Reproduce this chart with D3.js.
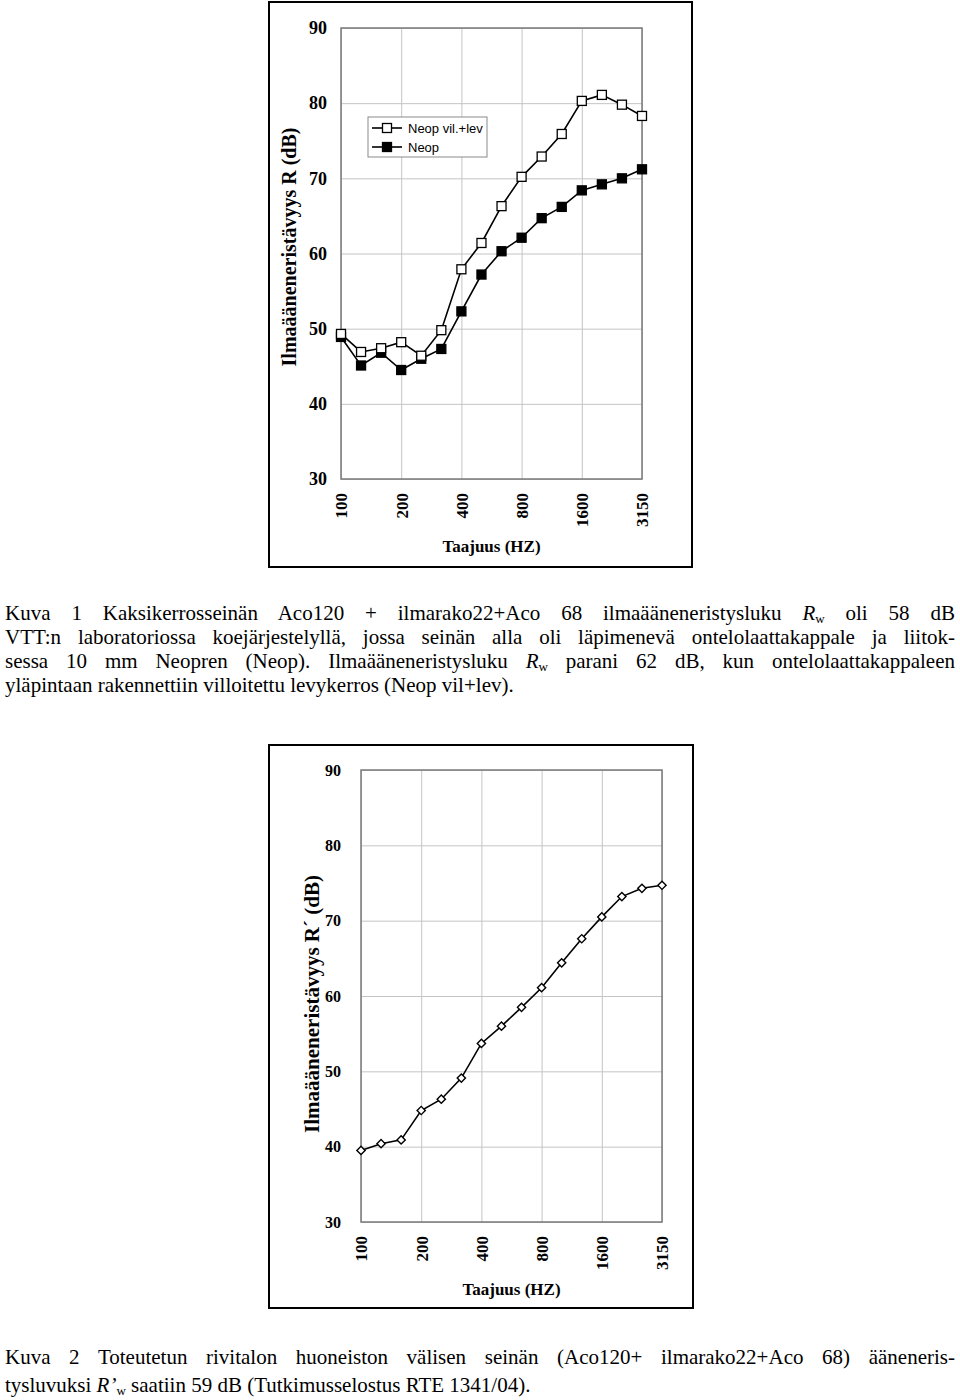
<!DOCTYPE html>
<html>
<head>
<meta charset="utf-8">
<script src="https://cdn.jsdelivr.net/npm/d3@7"></script>
<style>
  body { margin: 0; background: #fff; }
  svg { display: block; }
</style>
</head>
<body>
<svg id="page" width="960" height="1400"></svg>
<script>
// third-octave band centre frequencies
const freqs = ['100', '125', '160', '200', '250', '315', '400', '500', '630', '800',
  '1000', '1250', '1600', '2000', '2500', '3150'];
const freqTicks = ['100', '200', '400', '800', '1600', '3150'];
const dbTicks = [30, 40, 50, 60, 70, 80, 90];

// Kuva 1: laboratory values
const seriesNames = ['Neop vil.+lev', 'Neop'];
const neopVilLev = [49.3, 46.9, 47.4, 48.2, 46.4, 49.8, 57.9, 61.4, 66.3, 70.2, 72.9, 75.9, 80.3, 81.1, 79.8, 78.3];
const neop = [48.9, 45.1, 46.8, 44.5, 46.0, 47.3, 52.3, 57.2, 60.3, 62.1, 64.7, 66.2, 68.4, 69.2, 70.0, 71.2];
// Kuva 2: field values
const fieldR = [39.5, 40.4, 40.9, 44.8, 46.3, 49.1, 53.7, 56.0, 58.5, 61.1, 64.4, 67.6, 70.5, 73.2, 74.3, 74.7];

const serif = '"Liberation Serif", "Times New Roman", serif';
const sans = '"Liberation Sans", Arial, sans-serif';

const svg = d3.select('#page');

function drawChart(o) {
  const g = svg.append('g');
  // outer frame
  g.append('rect')
    .attr('x', o.frame[0]).attr('y', o.frame[1])
    .attr('width', o.frame[2] - o.frame[0]).attr('height', o.frame[3] - o.frame[1])
    .attr('fill', '#fff').attr('stroke', '#000').attr('stroke-width', 2);

  const x = d3.scalePoint().domain(freqs).range([o.left, o.right]);
  const y = d3.scaleLinear().domain([30, 90]).range([o.bottom, o.top]);

  // grid
  g.append('g')
    .attr('transform', `translate(0,${o.top})`)
    .call(d3.axisBottom(x).tickValues(freqTicks).tickSize(o.bottom - o.top).tickFormat(''))
    .call(a => a.select('.domain').remove())
    .selectAll('line').attr('stroke', '#c4c4c4').attr('stroke-width', 1);
  g.append('g')
    .attr('transform', `translate(${o.left},0)`)
    .call(d3.axisRight(y).tickValues(dbTicks).tickSize(o.right - o.left).tickFormat(''))
    .call(a => a.select('.domain').remove())
    .selectAll('line').attr('stroke', '#c4c4c4').attr('stroke-width', 1);

  g.append('rect')
    .attr('x', o.left).attr('y', o.top)
    .attr('width', o.right - o.left).attr('height', o.bottom - o.top)
    .attr('fill', 'none').attr('stroke', '#7a7a7a').attr('stroke-width', 1.5);

  // y tick labels
  const ya = g.append('g')
    .attr('transform', `translate(${o.left},0)`)
    .call(d3.axisLeft(y).tickValues(dbTicks).tickSize(0).tickPadding(o.yPad));
  ya.select('.domain').remove();
  ya.selectAll('text')
    .attr('font-family', serif).attr('font-weight', 'bold')
    .attr('font-size', o.yFont).attr('fill', '#000');

  // x tick labels, rotated
  const xa = g.append('g')
    .attr('transform', `translate(0,${o.bottom})`)
    .call(d3.axisBottom(x).tickValues(freqTicks).tickSize(0));
  xa.select('.domain').remove();
  xa.selectAll('text')
    .attr('transform', 'rotate(-90)')
    .attr('text-anchor', 'end')
    .attr('x', -14).attr('y', 0).attr('dy', '0.35em')
    .attr('font-family', serif).attr('font-weight', 'bold')
    .attr('font-size', o.xFont).attr('fill', '#000');

  // axis titles
  g.append('text')
    .attr('transform', `translate(${o.yTitleX},${o.yTitleY}) rotate(-90)`)
    .attr('text-anchor', 'middle').attr('dy', '0.35em')
    .attr('font-family', serif).attr('font-weight', 'bold')
    .attr('font-size', o.yTitleFont)
    .text(o.yTitle);
  g.append('text')
    .attr('x', (o.left + o.right) / 2).attr('y', o.bottom + 73)
    .attr('text-anchor', 'middle')
    .attr('font-family', serif).attr('font-weight', 'bold')
    .attr('font-size', 17)
    .text('Taajuus (HZ)');

  return {g, x, y};
}

function drawLine(c, values) {
  const line = d3.line().x((d, i) => c.x(freqs[i])).y(d => c.y(d));
  c.g.append('path')
    .datum(values)
    .attr('d', line)
    .attr('fill', 'none').attr('stroke', '#000').attr('stroke-width', 1.6);
}

function drawSquares(c, values, fill) {
  const s = 9;
  c.g.append('g').selectAll('rect')
    .data(values)
    .join('rect')
      .attr('x', (d, i) => c.x(freqs[i]) - s / 2)
      .attr('y', d => c.y(d) - s / 2)
      .attr('width', s).attr('height', s)
      .attr('fill', fill).attr('stroke', '#000').attr('stroke-width', 1.3);
}

// ---- Kuva 1 ----
const c1 = drawChart({
  frame: [269, 2, 692, 567],
  left: 341, right: 642, top: 28, bottom: 479,
  yPad: 14, yFont: 18, xFont: 17,
  yTitle: 'Ilmaääneneristävyys R (dB)', yTitleX: 289, yTitleY: 247, yTitleFont: 20
});
drawLine(c1, neop);
drawLine(c1, neopVilLev);
drawSquares(c1, neop, '#000');
drawSquares(c1, neopVilLev, '#fff');

// legend
const leg = c1.g.append('g');
leg.append('rect')
  .attr('x', 368).attr('y', 117).attr('width', 119).attr('height', 40)
  .attr('fill', '#fff').attr('stroke', '#8a8a8a').attr('stroke-width', 1);
seriesNames.forEach((name, i) => {
  const ly = 128 + i * 19;
  leg.append('line')
    .attr('x1', 372).attr('x2', 402).attr('y1', ly).attr('y2', ly)
    .attr('stroke', '#000').attr('stroke-width', 1.6);
  leg.append('rect')
    .attr('x', 382.5).attr('y', ly - 4.5).attr('width', 9).attr('height', 9)
    .attr('fill', i === 0 ? '#fff' : '#000').attr('stroke', '#000').attr('stroke-width', 1.3);
  leg.append('text')
    .attr('x', 408).attr('y', ly).attr('dy', '0.35em')
    .attr('font-family', sans).attr('font-size', 13)
    .text(name);
});

// ---- Kuva 2 ----
const c2 = drawChart({
  frame: [269, 745, 693, 1308],
  left: 361, right: 662, top: 770, bottom: 1222,
  yPad: 20, yFont: 16, xFont: 17,
  yTitle: 'Ilmaääneneristävyys R´ (dB)', yTitleX: 312, yTitleY: 1004, yTitleFont: 21
});
drawLine(c2, fieldR);
c2.g.append('g').selectAll('path')
  .data(fieldR)
  .join('path')
    .attr('d', d3.symbol().type(d3.symbolSquare).size(34))
    .attr('transform', (d, i) => `translate(${c2.x(freqs[i])},${c2.y(d)}) rotate(45)`)
    .attr('fill', '#fff').attr('stroke', '#000').attr('stroke-width', 1.4);

// ---- captions (justified lines) ----
const cap1 = [
  [['Kuva 1 Kaksikerrosseinän Aco120 + ilmarako22+Aco 68 ilmaääneneristysluku '], ['R', 'i'], ['w', 's'], [' oli 58 dB']],
  [['VTT:n laboratoriossa koejärjestelyllä, jossa seinän alla oli läpimenevä ontelolaattakappale ja liitok-']],
  [['sessa 10 mm Neopren (Neop). Ilmaääneneristysluku '], ['R', 'i'], ['w', 's'], [' parani 62 dB, kun ontelolaattakappaleen']],
  [['yläpintaan rakennettiin villoitettu levykerros (Neop vil+lev).']]
];
const cap2 = [
  [['Kuva 2 Toteutetun rivitalon huoneiston välisen seinän (Aco120+ ilmarako22+Aco 68) ääneneris-']],
  [['tysluvuksi '], ['R’', 'i'], ['w', 's'], [' saatiin 59 dB (Tutkimusselostus RTE 1341/04).']]
];

function caption(lines, baselines) {
  lines.forEach((parts, li) => {
    const t = svg.append('text')
      .attr('x', 5).attr('y', baselines[li])
      .attr('font-family', serif).attr('font-size', 21).attr('fill', '#000');
    parts.forEach(([s, kind]) => {
      const ts = t.append('tspan').text(s);
      if (kind === 'i') ts.attr('font-style', 'italic');
      if (kind === 's') ts.attr('font-size', 13).attr('dy', 3);
    });
    // undo subscript shift on following span
    t.selectAll('tspan').each(function (d, i, nodes) {
      if (i > 0 && nodes[i - 1].getAttribute('dy') === '3') d3.select(this).attr('dy', -3);
    });
    if (li < lines.length - 1) {
      const full = parts.map(p => p[0]).join('');
      const spaces = (full.match(/ /g) || []).length;
      const w = t.node().getComputedTextLength();
      t.style('word-spacing', ((950 - w) / spaces) + 'px');
    }
  });
}
caption(cap1, [620, 644, 668, 692]);
caption(cap2, [1364, 1392]);
</script>
</body>
</html>
